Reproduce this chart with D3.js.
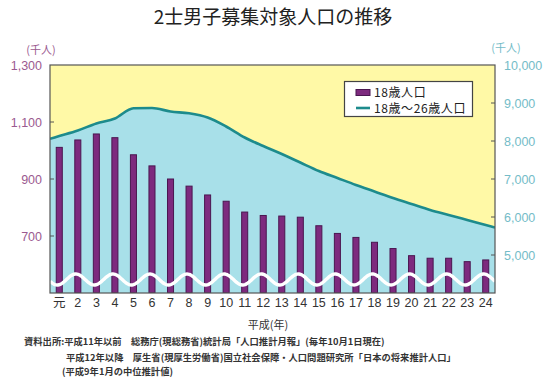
<!DOCTYPE html>
<html><head><meta charset="utf-8">
<script src="https://cdn.jsdelivr.net/npm/d3@7"></script>
<style>
html,body{margin:0;padding:0;background:#fff;}
svg{display:block;font-family:"Noto Sans CJK JP","Noto Sans",sans-serif;}
</style></head>
<body><svg id="c" width="550" height="386"></svg>
<script>
// ---- data ----
const categories = ["元","2","3","4","5","6","7","8","9","10","11","12","13","14","15","16","17","18","19","20","21","22","23","24"];
const pop18 = [1011,1037,1058,1045,985,946,900,875,844,822,784,772,770,766,736,709,695,678,656,631,622,622,610,616];
const pop18to26 = [8130,8276,8461,8592,8861,8870,8776,8729,8618,8382,8092,7868,7658,7434,7211,7026,6842,6671,6500,6342,6184,6053,5921,5789];
const leftTicks = [700,900,1100,1300];
const rightTicks = [5000,6000,7000,8000,9000,10000];
const legendLabels = ["18歳人口","18歳〜26歳人口"];
const titleText = "2士男子募集対象人口の推移";
const xTitle = "平成(年)";
const sourceLines = [
  "資料出所:平成11年以前　総務庁(現総務省)統計局「人口推計月報」(毎年10月1日現在)",
  "平成12年以降　厚生省(現厚生労働省)国立社会保障・人口問題研究所「日本の将来推計人口」",
  "(平成9年1月の中位推計値)"
];

// ---- layout ----
const L = 50, R = 495, T = 65, B = 293;
const svg = d3.select("#c");
const x = d3.scaleBand().domain(categories).range([L, R]).paddingInner(0.62).paddingOuter(0.31);
const yL = d3.scaleLinear().domain([500, 1300]).range([B, T]);
const yR = d3.scaleLinear().domain([4000, 10000]).range([B, T]);
const cx = c => x(c) + x.bandwidth() / 2;

const purple = "#7d2a7e", purpleDark = "#4a1650", teal = "#1d8b8c",
      yellow = "#fff9a6", blue = "#a8e0e9", leftCol = "#9b5a90", rightCol = "#74bcc8";

svg.append("defs").append("clipPath").attr("id", "pc")
  .append("rect").attr("x", L).attr("y", T).attr("width", R - L).attr("height", B - T);

// background
svg.append("rect").attr("x", L).attr("y", T).attr("width", R - L).attr("height", B - T).attr("fill", yellow);

// line points, extended to plot edges by extrapolation
const n = categories.length;
const pts = pop18to26.map((v, i) => [cx(categories[i]), v]);
const st = x.step();
const halfL = (cx(categories[0]) - L) / st, halfR = (R - cx(categories[n - 1])) / st;
const vL = pop18to26[0] - (pop18to26[1] - pop18to26[0]) * halfL;
const vR = pop18to26[n - 1] + (pop18to26[n - 1] - pop18to26[n - 2]) * halfR;
const linePts = [[L, vL], ...pts, [R, vR]];

const g = svg.append("g").attr("clip-path", "url(#pc)");
g.append("path").datum(linePts)
  .attr("d", d3.area().x(d => d[0]).y0(B).y1(d => yR(d[1])).curve(d3.curveMonotoneX))
  .attr("fill", blue);
g.append("path").datum(linePts)
  .attr("d", d3.line().x(d => d[0]).y(d => yR(d[1])).curve(d3.curveMonotoneX))
  .attr("fill", "none").attr("stroke", teal).attr("stroke-width", 2.6);

// bars
g.selectAll("rect.bar").data(pop18).join("rect").attr("class", "bar")
  .attr("x", (d, i) => x(categories[i]) + 0.5)
  .attr("y", d => yL(d))
  .attr("width", x.bandwidth() - 1)
  .attr("height", d => B - yL(d))
  .attr("fill", purple).attr("stroke", purpleDark).attr("stroke-width", 1);

// break wave (decoration)
const period = 2 * st, peak0 = cx(categories[1]) - 2, waveY = 279.5, amp = 5.5;
const wave = d3.range(L, R + 1, 1).map(px => [px, waveY - amp * Math.cos(2 * Math.PI * (px - peak0) / period)]);
g.append("path").datum(wave).attr("d", d3.line()).attr("fill", "none")
  .attr("stroke", "#fff").attr("stroke-width", 3.4);

// border
svg.append("rect").attr("x", L).attr("y", T).attr("width", R - L).attr("height", B - T)
  .attr("fill", "none").attr("stroke", "#555").attr("stroke-width", 1.2);

// left axis
const la = svg.append("g");
la.selectAll("line").data(leftTicks.filter(t => t < 1300)).join("line")
  .attr("x1", L).attr("x2", L + 4).attr("y1", d => yL(d)).attr("y2", d => yL(d))
  .attr("stroke", "#555").attr("stroke-width", 1);
la.selectAll("text").data(leftTicks).join("text")
  .attr("x", 42).attr("y", d => yL(d)).attr("dy", "0.36em").attr("text-anchor", "end")
  .attr("font-size", 12.5).attr("fill", leftCol).attr("font-family", "Liberation Sans, Arial, sans-serif")
  .text(d3.format(","));
svg.append("text").attr("x", 41).attr("y", 50).attr("dy", "0.36em").attr("text-anchor", "middle")
  .attr("font-size", 11).attr("fill", leftCol).text("(千人)");

// right axis
const ra = svg.append("g");
ra.selectAll("line").data(rightTicks.filter(t => t < 10000)).join("line")
  .attr("x1", R - 4).attr("x2", R).attr("y1", d => yR(d)).attr("y2", d => yR(d))
  .attr("stroke", "#555").attr("stroke-width", 1);
ra.selectAll("text").data(rightTicks).join("text")
  .attr("x", 504).attr("y", d => yR(d)).attr("dy", "0.36em").attr("text-anchor", "start")
  .attr("font-size", 12.5).attr("fill", rightCol).attr("font-family", "Liberation Sans, Arial, sans-serif")
  .text(d3.format(","));
svg.append("text").attr("x", 506).attr("y", 48).attr("dy", "0.36em").attr("text-anchor", "middle")
  .attr("font-size", 11).attr("fill", rightCol).text("(千人)");

// x axis labels
svg.append("g").selectAll("text").data(categories).join("text")
  .attr("x", d => cx(d)).attr("y", 302).attr("dy", "0.36em").attr("text-anchor", "middle")
  .attr("font-size", 12.5).attr("fill", "#333")
  .attr("font-family", d => d === "元" ? "Noto Sans CJK JP, sans-serif" : "Liberation Sans, Arial, sans-serif")
  .text(d => d);
svg.append("text").attr("x", 268).attr("y", 325).attr("dy", "0.36em").attr("text-anchor", "middle")
  .attr("font-size", 11).attr("fill", "#333").text(xTitle);

// title
svg.append("text").attr("x", 273).attr("y", 17).attr("dy", "0.36em").attr("text-anchor", "middle")
  .attr("font-size", 19).attr("fill", "#222").text(titleText);

// legend
const lg = svg.append("g");
lg.append("rect").attr("x", 344.5).attr("y", 81.5).attr("width", 128).attr("height", 35)
  .attr("fill", "#fff").attr("stroke", "#444").attr("stroke-width", 1.2);
lg.append("rect").attr("x", 356).attr("y", 89.5).attr("width", 14).attr("height", 6)
  .attr("fill", purple).attr("stroke", purpleDark).attr("stroke-width", 1);
lg.append("line").attr("x1", 356).attr("x2", 370).attr("y1", 108).attr("y2", 108)
  .attr("stroke", teal).attr("stroke-width", 2.6);
lg.selectAll("text").data(legendLabels).join("text")
  .attr("x", 374).attr("y", (d, i) => 92.5 + i * 16).attr("dy", "0.36em")
  .attr("font-size", 12).attr("fill", "#222").attr("letter-spacing", 0.6).text(d => d);

// source text
const sx = [24, 66, 62], sy = [342, 358, 372];
svg.append("g").selectAll("text").data(sourceLines).join("text")
  .attr("x", (d, i) => sx[i]).attr("y", (d, i) => sy[i]).attr("dy", "0.36em")
  .attr("font-size", 9.3).attr("font-weight", "bold").attr("fill", "#333").text(d => d);
</script></body></html>
